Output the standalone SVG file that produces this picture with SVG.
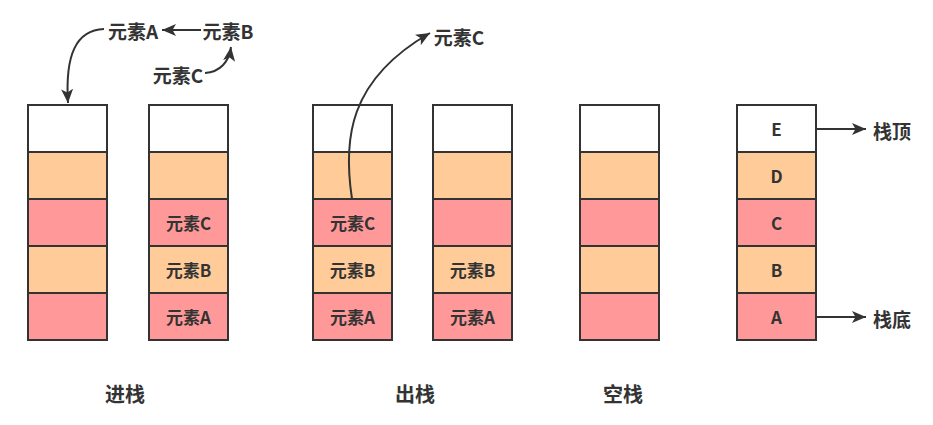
<svg xmlns="http://www.w3.org/2000/svg" width="933" height="425" viewBox="0 0 933 425">
<style>
.w{fill:#FFFFFF;stroke:#333333;stroke-width:2}
.o{fill:#FFCC99;stroke:#333333;stroke-width:2}
.p{fill:#FF9999;stroke:#333333;stroke-width:2}
text{font-family:"Noto Sans CJK SC","Noto Sans",sans-serif;font-weight:bold;fill:#333333;text-anchor:middle;dominant-baseline:central}
.s{font-size:17px}
.l{font-size:19px}
.b{font-size:20px}
.c{fill:none;stroke:#333333;stroke-width:2}
</style>
<defs>
<marker id="ah" markerUnits="userSpaceOnUse" markerWidth="15" markerHeight="13" refX="14" refY="6" orient="auto" viewBox="0 0 15 12">
<path d="M0,0 L14,6 L0,12 L3.5,6 z" fill="#333333"/>
</marker>
</defs>
<g id="stack1">
<rect class="w" x="28" y="105" width="79" height="47"/>
<rect class="o" x="28" y="152" width="79" height="47"/>
<rect class="p" x="28" y="199" width="79" height="47"/>
<rect class="o" x="28" y="246" width="79" height="47"/>
<rect class="p" x="28" y="293" width="79" height="47"/>
</g>
<g id="stack2">
<rect class="w" x="149" y="105" width="79" height="47"/>
<rect class="o" x="149" y="152" width="79" height="47"/>
<rect class="p" x="149" y="199" width="79" height="47"/>
<rect class="o" x="149" y="246" width="79" height="47"/>
<rect class="p" x="149" y="293" width="79" height="47"/>
<text class="s" x="188.5" y="222.5">元素C</text>
<text class="s" x="188.5" y="269.5">元素B</text>
<text class="s" x="188.5" y="316.5">元素A</text>
</g>
<g id="stack3">
<rect class="w" x="313" y="105" width="79" height="47"/>
<rect class="o" x="313" y="152" width="79" height="47"/>
<rect class="p" x="313" y="199" width="79" height="47"/>
<rect class="o" x="313" y="246" width="79" height="47"/>
<rect class="p" x="313" y="293" width="79" height="47"/>
<text class="s" x="352.5" y="222.5">元素C</text>
<text class="s" x="352.5" y="269.5">元素B</text>
<text class="s" x="352.5" y="316.5">元素A</text>
</g>
<g id="stack4">
<rect class="w" x="433" y="105" width="79" height="47"/>
<rect class="o" x="433" y="152" width="79" height="47"/>
<rect class="p" x="433" y="199" width="79" height="47"/>
<rect class="o" x="433" y="246" width="79" height="47"/>
<rect class="p" x="433" y="293" width="79" height="47"/>
<text class="s" x="472.5" y="269.5">元素B</text>
<text class="s" x="472.5" y="316.5">元素A</text>
</g>
<g id="stack5">
<rect class="w" x="580" y="105" width="79" height="47"/>
<rect class="o" x="580" y="152" width="79" height="47"/>
<rect class="p" x="580" y="199" width="79" height="47"/>
<rect class="o" x="580" y="246" width="79" height="47"/>
<rect class="p" x="580" y="293" width="79" height="47"/>
</g>
<g id="stack6">
<rect class="w" x="737" y="105" width="79" height="47"/>
<rect class="o" x="737" y="152" width="79" height="47"/>
<rect class="p" x="737" y="199" width="79" height="47"/>
<rect class="o" x="737" y="246" width="79" height="47"/>
<rect class="p" x="737" y="293" width="79" height="47"/>
<text class="s" x="776.5" y="128.5">E</text>
<text class="s" x="776.5" y="175.5">D</text>
<text class="s" x="776.5" y="222.5">C</text>
<text class="s" x="776.5" y="269.5">B</text>
<text class="s" x="776.5" y="316.5">A</text>
</g>
<g id="labels">
<text class="l" x="133" y="30">元素A</text>
<text class="l" x="228" y="30">元素B</text>
<text class="l" x="178" y="74">元素C</text>
<text class="l" x="459" y="36">元素C</text>
<text class="l" x="892" y="130">栈顶</text>
<text class="l" x="892" y="318">栈底</text>
<text class="b" x="125" y="393">进栈</text>
<text class="b" x="415" y="393">出栈</text>
<text class="b" x="623" y="393">空栈</text>
</g>
<g id="connectors">
<path class="c" d="M201,30 L162,30" marker-end="url(#ah)"/>
<path class="c" d="M104,29 C76,30 65,55 68,103" marker-end="url(#ah)"/>
<path class="c" d="M205,73 C220,72 229,62 231,47" marker-end="url(#ah)"/>
<path class="c" d="M352,199 C343,140 348,80 430,33" marker-end="url(#ah)"/>
<path class="c" d="M816,129 L866,129" marker-end="url(#ah)"/>
<path class="c" d="M816,317 L866,317" marker-end="url(#ah)"/>
</g>
</svg>
